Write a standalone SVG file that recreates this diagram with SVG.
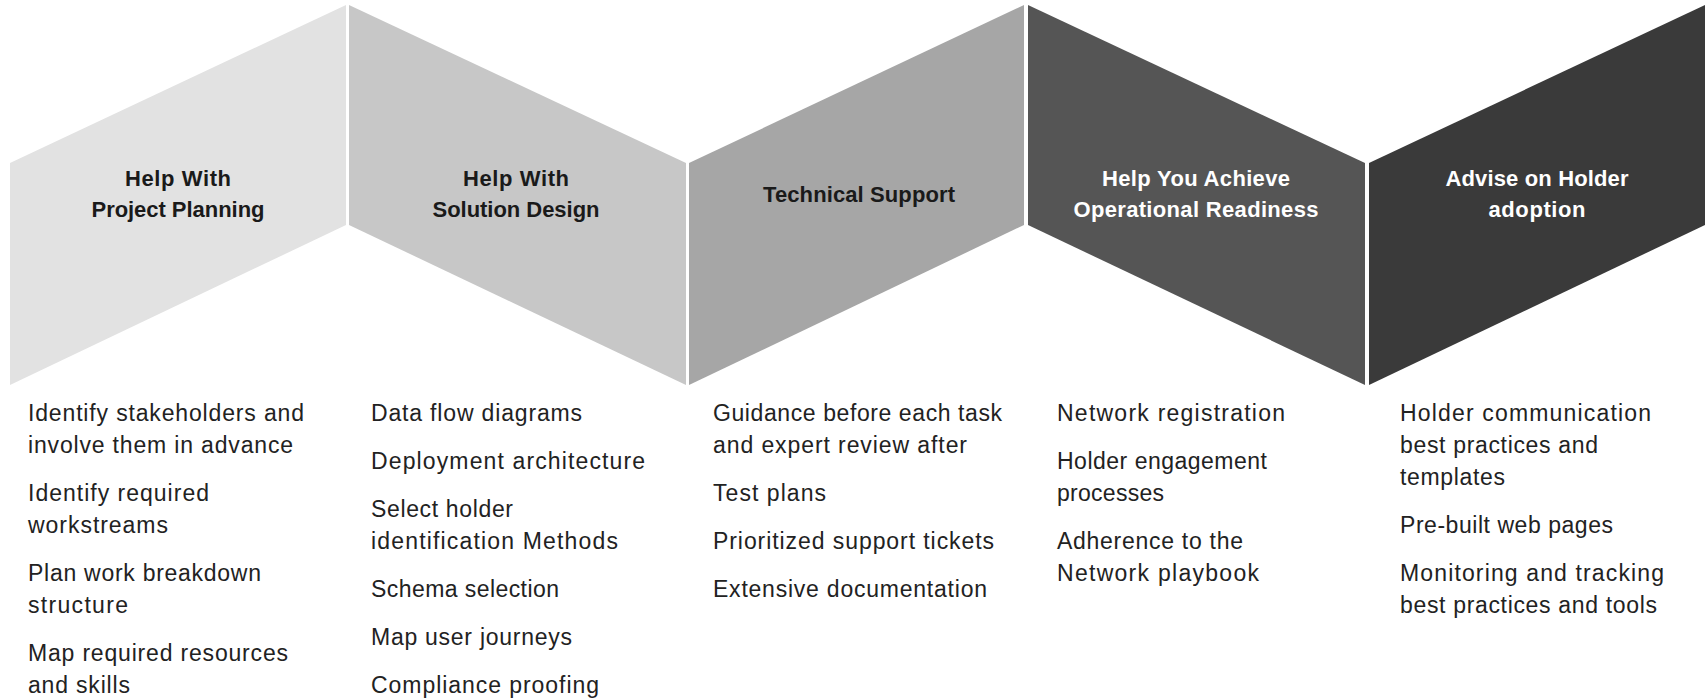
<svg xmlns="http://www.w3.org/2000/svg" width="1707" height="699" viewBox="0 0 1707 699">
<style>
.title{font-family:"Liberation Sans",Arial,sans-serif;font-weight:bold;font-size:22px;text-anchor:middle}
.dark{fill:#1a1a1a}
.light{fill:#ffffff}
.body{font-family:"Liberation Sans",Arial,sans-serif;font-size:23px;fill:#222222}
</style>
<rect width="1707" height="699" fill="#ffffff"/>
<g id="node1">
<polygon points="10,163 346,5 346,225 10,385" fill="#e2e2e2"/>
<text class="title dark" x="178" y="186" textLength="106">Help With</text>
<text class="title dark" x="178" y="217" textLength="173">Project Planning</text>
</g>
<g id="node2">
<polygon points="349,5 686,163 686,385 349,225" fill="#c7c7c7"/>
<text class="title dark" x="516" y="186" textLength="106">Help With</text>
<text class="title dark" x="516" y="217" textLength="167">Solution Design</text>
</g>
<g id="node3">
<polygon points="689,163 1024,5 1024,225 689,385" fill="#a6a6a6"/>
<text class="title dark" x="859" y="202" textLength="192">Technical Support</text>
</g>
<g id="node4">
<polygon points="1028,5 1365,163 1365,385 1028,225" fill="#555555"/>
<text class="title light" x="1196" y="186" textLength="188">Help You Achieve</text>
<text class="title light" x="1196" y="217" textLength="245">Operational Readiness</text>
</g>
<g id="node5">
<polygon points="1369,163 1705,5 1705,225 1369,385" fill="#3a3a3a"/>
<text class="title light" x="1537" y="186" textLength="183">Advise on Holder</text>
<text class="title light" x="1537" y="217" textLength="97">adoption</text>
</g>
<g id="list1">
<text class="body" x="28" y="421" textLength="276">Identify stakeholders and</text>
<text class="body" x="28" y="453" textLength="265">involve them in advance</text>
<text class="body" x="28" y="501" textLength="181">Identify required</text>
<text class="body" x="28" y="533" textLength="140">workstreams</text>
<text class="body" x="28" y="581" textLength="233">Plan work breakdown</text>
<text class="body" x="28" y="613" textLength="100">structure</text>
<text class="body" x="28" y="661" textLength="260">Map required resources</text>
<text class="body" x="28" y="693" textLength="102">and skills</text>
</g>
<g id="list2">
<text class="body" x="371" y="421" textLength="211">Data flow diagrams</text>
<text class="body" x="371" y="469" textLength="274">Deployment architecture</text>
<text class="body" x="371" y="517" textLength="142">Select holder</text>
<text class="body" x="371" y="549" textLength="247">identification Methods</text>
<text class="body" x="371" y="597" textLength="188">Schema selection</text>
<text class="body" x="371" y="645" textLength="201">Map user journeys</text>
<text class="body" x="371" y="693" textLength="228">Compliance proofing</text>
</g>
<g id="list3">
<text class="body" x="713" y="421" textLength="289">Guidance before each task</text>
<text class="body" x="713" y="453" textLength="254">and expert review after</text>
<text class="body" x="713" y="501" textLength="113">Test plans</text>
<text class="body" x="713" y="549" textLength="281">Prioritized support tickets</text>
<text class="body" x="713" y="597" textLength="274">Extensive documentation</text>
</g>
<g id="list4">
<text class="body" x="1057" y="421" textLength="228">Network registration</text>
<text class="body" x="1057" y="469" textLength="210">Holder engagement</text>
<text class="body" x="1057" y="501" textLength="107">processes</text>
<text class="body" x="1057" y="549" textLength="186">Adherence to the</text>
<text class="body" x="1057" y="581" textLength="202">Network playbook</text>
</g>
<g id="list5">
<text class="body" x="1400" y="421" textLength="251">Holder communication</text>
<text class="body" x="1400" y="453" textLength="198">best practices and</text>
<text class="body" x="1400" y="485" textLength="105">templates</text>
<text class="body" x="1400" y="533" textLength="213">Pre-built web pages</text>
<text class="body" x="1400" y="581" textLength="264">Monitoring and tracking</text>
<text class="body" x="1400" y="613" textLength="257">best practices and tools</text>
</g>
<g id="connectors"></g>
</svg>
